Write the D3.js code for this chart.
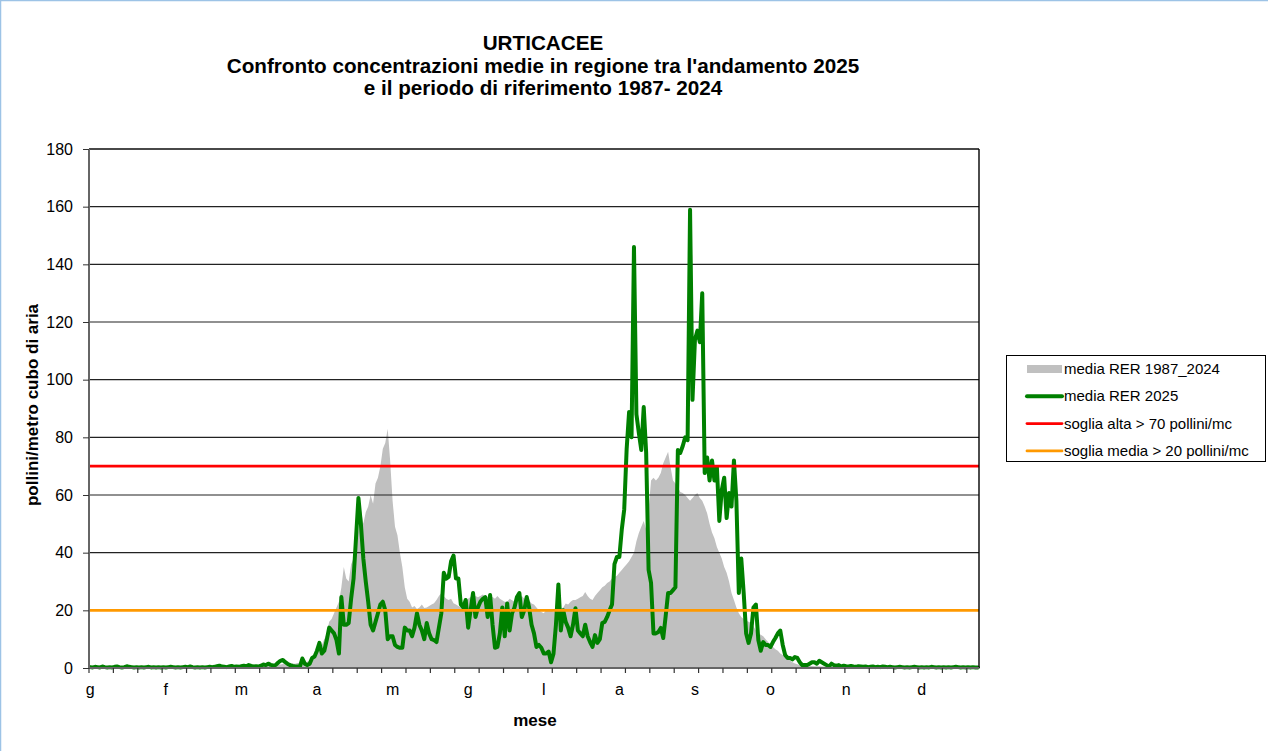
<!DOCTYPE html>
<html><head><meta charset="utf-8">
<script src="https://cdn.jsdelivr.net/npm/d3@7"></script>
<style>
body{margin:0;background:#fff;}
svg{display:block;font-family:"Liberation Sans",Arial,sans-serif;}
</style>
</head><body>
<svg id="c" width="1268" height="751"></svg>
<script>
// ---------- DATA ----------
const titleLines = ["URTICACEE",
  "Confronto concentrazioni medie in regione tra l'andamento 2025",
  "e il periodo di riferimento 1987- 2024"];
const monthLabels = ["g","f","m","a","m","g","l","a","s","o","n","d"];
const monthLabelDays = [1,32,63,94,125,156,187,218,249,280,311,342];
const yTicks = [0,20,40,60,80,100,120,140,160,180];
const seriesNames = ["media RER 1987_2024","media RER 2025","soglia alta > 70 pollini/mc","soglia media > 20 pollini/mc"];
const sogliaAlta = 70;
const sogliaMedia = 20;

// daily mean 1987-2024 (365 days)
const media1987_2024 = [
0.3,0.2,0.3,0.4,0.3,0.2,0.3,0.3,0.2,0.3,
0.4,0.3,0.2,0.3,0.3,0.4,0.3,0.2,0.3,0.3,
0.2,0.3,0.4,0.3,0.3,0.2,0.3,0.4,0.3,0.3,
0.3,0.4,0.3,0.3,0.4,0.5,0.4,0.3,0.4,0.5,
0.4,0.5,0.6,0.5,0.4,0.5,0.6,0.5,0.6,0.7,
0.6,0.5,0.6,0.7,0.8,0.7,0.6,0.7,0.8,0.9,
0.6,0.7,0.6,0.8,0.7,0.8,0.9,0.8,0.9,1.0,
0.9,1.0,1.1,1.0,1.2,1.1,1.2,1.3,1.2,1.4,
1.3,1.5,1.4,1.6,1.5,1.7,1.8,1.9,2.0,2.2,
2.5,3,3.5,5,7,8,10,12,16,17,
19,21,23,28,35,31,30,36,38,42,
48,55,50,54,56,60,57,64,66,70,
76,78,83,72,58,49,46,40,35,28,
24,23,21,21.5,20.5,21,22,20.8,21,21.5,
22,22.5,23.6,25,26,25,24,23.6,24,22.5,
22,21.5,21,22,23,24,24.6,24,25,24.5,
25,25.5,25,24.6,25,24.6,24,25,24,23.5,
23,23,24,23.5,23,23.6,24,25,24,24.6,
23.5,22.4,22,21,20,19.4,19,20,20.5,20,
19.5,20,20,20.5,21,22.4,22,23,23.6,23.6,
24,24.5,25,26.4,25,24,23.6,25,26,27,
28,28.5,29.5,30,31,31.6,32,33,34,35,
36,37,38.5,40,44,46.8,49,51,48,55,
65,66,65,66,67.6,71,73,75,69.7,65,
64,62.8,61,60.7,60,59,58,59,60,60.7,
59,58,56,53.7,50,47,45,42,40,38,
35,33,30,26,23.6,21,19,17.7,17,16.5,
16,15.6,14.5,13,12,11.5,11,10,9,8,
7.3,6.5,6,5,4.5,4,3.2,2.6,2,1.6,
1.3,1,0.9,0.8,0.8,0.7,0.7,0.6,0.6,0.6,
0.5,0.5,0.5,0.4,0.4,0.4,0.4,0.3,0.3,0.3,
0.3,0.3,0.3,0.2,0.3,0.2,0.3,0.2,0.2,0.3,
0.2,0.3,0.2,0.2,0.3,0.2,0.2,0.3,0.2,0.2,
0.3,0.2,0.2,0.2,0.3,0.2,0.2,0.2,0.3,0.2,
0.2,0.3,0.2,0.2,0.2,0.3,0.2,0.2,0.2,0.3,
0.2,0.2,0.3,0.2,0.2,0.2,0.3,0.2,0.2,0.2,
0.3,0.2,0.2,0.2,0.2
];

// daily mean 2025 (365 days)
const media2025 = [
0.3,0.2,0.4,0.3,0.2,0.5,0.3,0.2,0.3,0.2,
0.4,0.5,0.3,0.2,0.3,0.6,0.4,0.3,0.2,0.3,
0.2,0.3,0.2,0.3,0.4,0.2,0.3,0.2,0.3,0.2,
0.3,0.2,0.3,0.4,0.3,0.2,0.3,0.2,0.3,0.4,
0.3,0.5,0.3,0.2,0.3,0.2,0.3,0.2,0.3,0.4,
0.3,0.4,0.6,0.8,0.5,0.4,0.3,0.5,0.7,0.4,
0.5,0.4,0.6,0.8,0.6,1.0,0.7,0.5,0.6,0.5,
0.8,1.2,1.0,1.5,1.1,0.9,1.0,1.8,2.5,2.8,
2.0,1.4,1.0,0.7,0.5,
0.5,0.5,3.3,1.5,1.0,1.5,3.5,4.0,6.0,8.7,
5.0,6.0,9.7,14,13,12,9.7,5.0,24.6,15,
15,15.6,24,31,45,59,50,38,30,23,
15,13,16,19,22,23,20,10,11,11,
8,7.3,7,7,14,13,13,11,14,19,
15,13,10,15.6,12,10,9.7,9,14,19,
33,31,31.6,37,39,31,31,22,21,23.6,
14,20,26,17.7,21,23,24,24.6,17.7,25.3,
15,7,7.3,12,21,11,22.4,13,19,21,
24.6,26,17.7,20,24.6,21,15,12,7.3,8,
7,5,5,5.7,2,5,15,29,13,20,
16,14,11,15,20.7,13,12,11,15,11,
9,7.3,11.4,8.7,10,15.6,16,17.7,20,22,
36,38.5,38.5,48,55,76,88.8,80,146,88,
81.5,75.6,90.5,74.6,34,29.5,12,12,12.5,13.9,
10.4,18,26,26,27,28,75.6,74.6,77,80,
79,158.9,93,113.8,117,113,130,67.6,73,65,
72,65,69.7,51,61.7,66,52,60.7,56,72,
58,26,38,26,12,8.7,12,21,22,9.7,
6,9,8,8,7.3,9,10.4,12,13,8,
4.5,3.5,3.5,3,3.8,3.5,2,1,1,1,
1.5,2,2,1.5,2.5,2,1.5,1,0.5,1.5,
1,0.8,1,0.5,0.8,
0.6,0.5,0.7,0.5,0.4,0.6,0.5,0.4,0.5,0.3,
0.4,0.5,0.3,0.4,0.3,0.5,0.4,0.3,0.4,0.3,
0.2,0.3,0.4,0.3,0.2,0.3,0.2,0.3,0.4,0.3,
0.2,0.3,0.2,0.3,0.2,0.4,0.3,0.2,0.3,0.2,
0.3,0.2,0.3,0.2,0.3,0.4,0.3,0.2,0.3,0.2,
0.3,0.2,0.3,0.2,0.2
];

// ---------- CHART ----------
const days = d3.range(1, media2025.length + 1);
const svg = d3.select("#c");
const L = 89, R = 979, T = 149, B = 668;

const x = d3.scaleBand().domain(days).range([L, R]).paddingInner(0).paddingOuter(0);
const cx = d => x(d) + x.bandwidth() / 2;
const y = d3.scaleLinear().domain([0, 180]).range([B, T]);

// outer light-blue border (top & left)
svg.append("line").attr("x1",0.5).attr("y1",0).attr("x2",0.5).attr("y2",751).attr("stroke","#9dc3e6").attr("stroke-width",1.5);
svg.append("line").attr("x1",0).attr("y1",0.5).attr("x2",1268).attr("y2",0.5).attr("stroke","#9dc3e6").attr("stroke-width",1.5);

// title
svg.append("g").selectAll("text").data(titleLines).join("text")
  .attr("x", 543).attr("y", (d, i) => 50 + i * 22.5)
  .attr("text-anchor", "middle").attr("font-weight", "bold").attr("font-size", "20.7px")
  .attr("fill", "#000").text(d => d);

// grey area
const area = d3.area().x((d, i) => cx(days[i])).y0(y(0)).y1(d => y(d));
svg.append("path").datum(media1987_2024).attr("d", area).attr("fill", "#c0c0c0");

// gridlines
svg.append("g").selectAll("line").data(yTicks.filter(t => t > 0)).join("line")
  .attr("x1", L).attr("x2", R).attr("y1", d => y(d)).attr("y2", d => y(d))
  .attr("stroke", "#222").attr("stroke-width", 1.1);

// green line
const line = d3.line().x((d, i) => cx(days[i])).y(d => y(d));
svg.append("path").datum(media2025).attr("d", line)
  .attr("fill", "none").attr("stroke", "#008000").attr("stroke-width", 4)
  .attr("stroke-linejoin", "round").attr("stroke-linecap", "round");

// thresholds
svg.append("line").attr("x1", L).attr("x2", R).attr("y1", y(sogliaAlta)).attr("y2", y(sogliaAlta))
  .attr("stroke", "#ff0000").attr("stroke-width", 2.8);
svg.append("line").attr("x1", L).attr("x2", R).attr("y1", y(sogliaMedia)).attr("y2", y(sogliaMedia))
  .attr("stroke", "#ff9900").attr("stroke-width", 2.8);

// plot border top/right
svg.append("line").attr("x1", L).attr("x2", R).attr("y1", T).attr("y2", T).attr("stroke", "#000").attr("stroke-width", 1.2);
svg.append("line").attr("x1", R).attr("x2", R).attr("y1", T).attr("y2", B).attr("stroke", "#000").attr("stroke-width", 1.4);

// y axis
const yAxis = d3.axisLeft(y).tickValues(yTicks).tickSize(6).tickPadding(10).tickFormat(d3.format("d"));
const gy = svg.append("g").attr("transform", `translate(${L},0)`).call(yAxis);
gy.select(".domain").attr("stroke", "#666").attr("stroke-width", 2).attr("d", `M0,${T}V${B}`);
gy.selectAll(".tick line").attr("stroke", "#333");
gy.selectAll(".tick text").attr("font-size", "16px").attr("fill", "#000")
  .attr("font-family", "'Liberation Sans',Arial,sans-serif");

// x axis: ticks every 10 days at category boundaries
const tickDays = days.filter(d => (d - 1) % 10 === 0);
const gx = svg.append("g");
gx.append("line").attr("x1", L).attr("x2", R).attr("y1", B).attr("y2", B).attr("stroke", "#666").attr("stroke-width", 2);
gx.selectAll("line.t").data(tickDays).join("line").attr("class", "t")
  .attr("x1", d => x(d)).attr("x2", d => x(d)).attr("y1", B).attr("y2", B + 5)
  .attr("stroke", "#333").attr("stroke-width", 1.2);
gx.selectAll("text").data(monthLabels).join("text")
  .attr("x", (d, i) => cx(monthLabelDays[i])).attr("y", 695)
  .attr("text-anchor", "middle").attr("font-size", "16px").attr("fill", "#000").text(d => d);

// axis titles
svg.append("text").attr("x", 535).attr("y", 726).attr("text-anchor", "middle")
  .attr("font-weight", "bold").attr("font-size", "17px").text("mese");
svg.append("text").attr("transform", "translate(38,405) rotate(-90)").attr("text-anchor", "middle")
  .attr("font-weight", "bold").attr("font-size", "17px").text("pollini/metro cubo di aria");

// legend
const lg = svg.append("g");
lg.append("rect").attr("x", 1006.5).attr("y", 355.5).attr("width", 259).attr("height", 106)
  .attr("fill", "#fff").attr("stroke", "#000").attr("stroke-width", 1);
const legStyles = [
  {c: "#c0c0c0", w: 8},
  {c: "#008000", w: 4},
  {c: "#ff0000", w: 2.8},
  {c: "#ff9900", w: 2.8}
];
const rows = lg.selectAll("g.row").data(seriesNames).join("g").attr("class", "row")
  .attr("transform", (d, i) => `translate(0,${369 + i * 27.3})`);
rows.append("line").attr("x1", 1027).attr("x2", 1062).attr("y1", 0).attr("y2", 0)
  .attr("stroke", (d, i) => legStyles[i].c).attr("stroke-width", (d, i) => legStyles[i].w)
  .attr("stroke-linecap", (d, i) => i === 0 ? "butt" : "round");
rows.append("text").attr("x", 1064).attr("y", 5).attr("font-size", "15px").attr("fill", "#000").text(d => d);
</script>
</body></html>
